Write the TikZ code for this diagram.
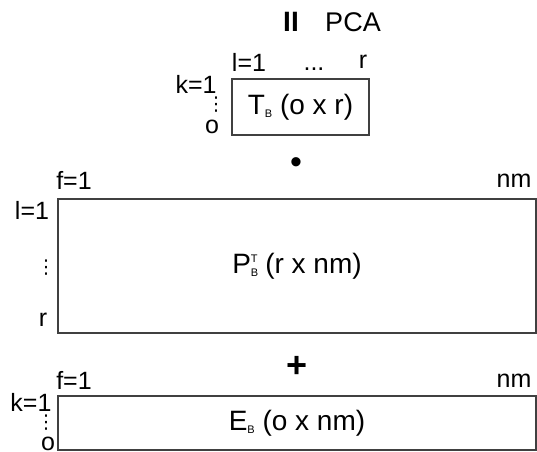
\documentclass[tikz,border=0pt]{standalone}
\usepackage{fontspec}
\setmainfont{Liberation Sans}
\newfontfamily\symfont{DejaVu Sans}
\usepackage{tikz}

\newcommand{\sub}[1]{\raisebox{-3pt}{\fontsize{11}{11}\selectfont #1}}
\newcommand{\subsup}[2]{\makebox[0pt][l]{\raisebox{11pt}{\fontsize{11}{11}\selectfont #2}}\raisebox{-3pt}{\fontsize{11}{11}\selectfont #1}}

\begin{document}
\begin{tikzpicture}[x=1pt, y=-1pt,
    mat/.style  = {rectangle, draw=black!75, line width=1.1pt, inner sep=0pt,
                   font=\fontsize{28}{30}\selectfont},
    lbl/.style  = {inner sep=0pt, font=\fontsize{25}{27}\selectfont},
    vd/.style   = {inner sep=0pt, font=\symfont\fontsize{19}{19}\selectfont}
]
\useasboundingbox (0,0) rectangle (537,451);
% title
\node[lbl, font=\fontsize{28}{30}\selectfont\bfseries] (eq) at (291,22) {II};
\node[lbl, font=\fontsize{27}{30}\selectfont] (pca) at (353,22) {PCA};
% scores
\node[mat, minimum width=137pt, minimum height=56pt] (tb) at (300.5,107)
  {T\sub{B} (o x r)};
\node[lbl] (tl) at (249,62) {l=1};
\node[lbl] (tdots) at (314,69) {...};
\node[lbl] (tr) at (363,62) {r};
\node[lbl] (tk) at (196,84) {k=1};
\node[vd] (tv) at (216,105) {⋮};
\node[lbl] (to) at (212,127) {o};
\node[lbl, font=\fontsize{34}{34}\selectfont] (dot) at (296,166) {\textbullet};
% loadings
\node[mat, minimum width=478pt, minimum height=134pt] (pb) at (297,266)
  {P\subsup{B}{T}\hspace{7pt}(r x nm)};
\node[lbl] (pf) at (74,180) {f=1};
\node[lbl] (pn) at (514,181) {nm};
\node[lbl] (pl) at (32,210) {l=1};
\node[vd] (pv) at (46,268) {⋮};
\node[lbl] (pr) at (43,320) {r};
\node[lbl, font=\fontsize{36}{36}\selectfont\bfseries] (plus) at (297,367) {+};
% residuals
\node[mat, minimum width=478pt, minimum height=54pt] (eb) at (297,423)
  {E\sub{B} (o x nm)};
\node[lbl] (ef) at (74,380) {f=1};
\node[lbl] (en) at (514,381) {nm};
\node[lbl] (ek) at (31,402) {k=1};
\node[vd] (ev) at (46,423) {⋮};
\node[lbl] (eo) at (48,444) {o};
\end{tikzpicture}
\end{document}
